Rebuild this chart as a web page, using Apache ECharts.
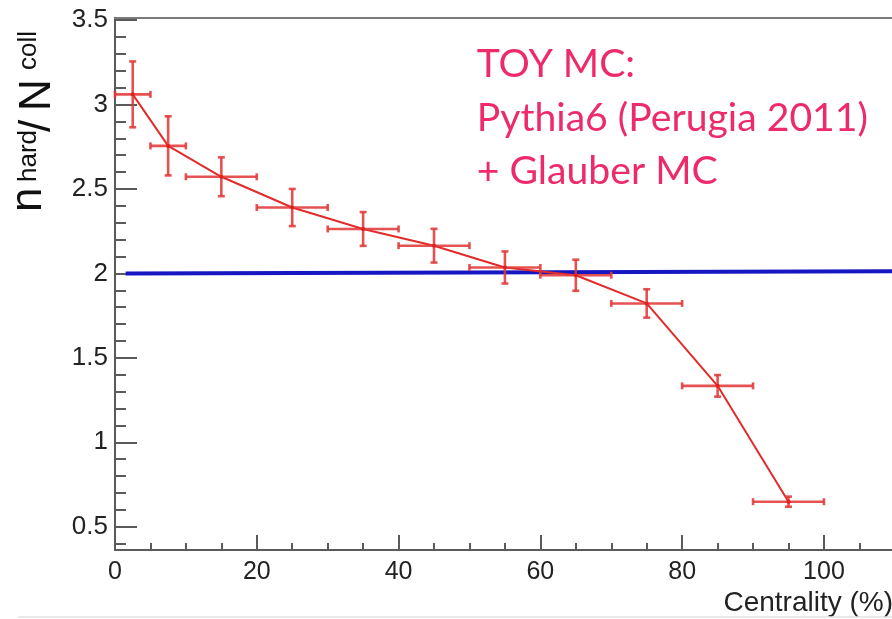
<!DOCTYPE html>
<html>
<head>
<meta charset="utf-8">
<script src="https://cdn.jsdelivr.net/npm/echarts@6/dist/echarts.min.js"></script>
<style>
  html, body { margin: 0; padding: 0; background: #ffffff; }
  #chart { width: 892px; height: 619px; }
</style>
</head>
<body>
<div id="chart"></div>
<script>
// Centrality bins (%), their half widths and the n_hard/N_coll ratio with uncertainties
const centrality = [2.5, 7.5, 15, 25, 35, 45, 55, 65, 75, 85, 95];
const binHalfWidth = [2.5, 2.5, 5, 5, 5, 5, 5, 5, 5, 5, 5];
const ratio = [3.06, 2.755, 2.572, 2.39, 2.263, 2.164, 2.035, 1.989, 1.822, 1.334, 0.648];
const ratioErr = [0.195, 0.175, 0.115, 0.11, 0.10, 0.10, 0.095, 0.092, 0.084, 0.064, 0.03];

// Reference level (blue line)
const refLineX = [1.5, 109.6];
const refLineY = [2.0, 2.013];

// Axis ticks and labels
const xMajorTicks = [0, 20, 40, 60, 80, 100];
const xMinorTicks = [0, 5, 10, 15, 20, 25, 30, 35, 40, 45, 50, 55, 60, 65, 70, 75, 80, 85, 90, 95, 100, 105];
const yMajorTicks = [0.5, 1, 1.5, 2, 2.5, 3, 3.5];
const yMinorTicks = [0.4, 0.5, 0.6, 0.7, 0.8, 0.9, 1.0, 1.1, 1.2, 1.3, 1.4, 1.5, 1.6, 1.7, 1.8, 1.9, 2.0,
                     2.1, 2.2, 2.3, 2.4, 2.5, 2.6, 2.7, 2.8, 2.9, 3.0, 3.1, 3.2, 3.3, 3.4, 3.5];

const annotationLines = ['TOY MC:', 'Pythia6 (Perugia 2011)', '+ Glauber MC'];
const xTitle = 'Centrality (%)';

const X_MIN = 0, X_MAX = 109.6;
const Y_MIN = 0.362, Y_MAX = 3.514;

const AXIS_COLOR = '#5a5a5a';
const LABEL_FONT = 'Liberation Sans, Arial, Helvetica, sans-serif';
const RED = '#e32b2b';

const gridBox = { left: 115, right: 0, top: 17.7, bottom: 69, outerBoundsMode: 'none' };

const points = centrality.map((x, i) => [x, ratio[i]]);
const errData = centrality.map((x, i) => [x, ratio[i], binHalfWidth[i], ratioErr[i]]);
const refLine = refLineX.map((x, i) => [x, refLineY[i]]);

function baseX(gridIndex) {
  return {
    type: 'value', gridIndex, min: X_MIN, max: X_MAX,
    splitLine: { show: false }, axisLabel: { show: false }, axisTick: { show: false },
    axisLine: { show: false }
  };
}
function baseY(gridIndex) {
  return {
    type: 'value', gridIndex, min: Y_MIN, max: Y_MAX,
    splitLine: { show: false }, axisLabel: { show: false }, axisTick: { show: false },
    axisLine: { show: false }
  };
}

const option = {
  backgroundColor: '#ffffff',
  animation: false,
  grid: [Object.assign({}, gridBox), Object.assign({}, gridBox)],
  xAxis: [
    // short ticks every 5 %, plus the axis line
    Object.assign(baseX(0), {
      axisLine: { show: true, onZero: false, lineStyle: { color: AXIS_COLOR, width: 2 } },
      axisTick: { show: true, inside: true, length: 7, customValues: xMinorTicks,
                  lineStyle: { color: AXIS_COLOR, width: 2 } }
    }),
    // long ticks and labels every 20 %
    Object.assign(baseX(1), {
      axisTick: { show: true, inside: true, length: 15, customValues: xMajorTicks,
                  lineStyle: { color: AXIS_COLOR, width: 2 } },
      axisLabel: { show: true, customValues: xMajorTicks, margin: 10, fontSize: 25,
                   color: '#222', fontFamily: LABEL_FONT }
    }),
    // top frame line
    Object.assign(baseX(1), {
      position: 'top',
      axisLine: { show: true, onZero: false, lineStyle: { color: '#7a7a7a', width: 2 } }
    })
  ],
  yAxis: [
    Object.assign(baseY(0), {
      axisLine: { show: true, onZero: false, lineStyle: { color: AXIS_COLOR, width: 2 } },
      axisTick: { show: true, inside: true, length: 11, customValues: yMinorTicks,
                  lineStyle: { color: AXIS_COLOR, width: 2 } }
    }),
    Object.assign(baseY(1), {
      axisTick: { show: true, inside: true, length: 22, customValues: yMajorTicks,
                  lineStyle: { color: AXIS_COLOR, width: 2 } },
      axisLabel: { show: true, customValues: yMajorTicks, margin: 7, fontSize: 26,
                   color: '#222', fontFamily: LABEL_FONT }
    })
  ],
  series: [
    {
      type: 'line', xAxisIndex: 0, yAxisIndex: 0, data: refLine,
      symbol: 'none', z: 2, silent: true,
      lineStyle: { color: '#1616c2', width: 4 }
    },
    {
      type: 'line', xAxisIndex: 0, yAxisIndex: 0, data: points,
      symbol: 'none', z: 3, silent: true,
      lineStyle: { color: RED, width: 2 }
    },
    {
      type: 'custom', xAxisIndex: 0, yAxisIndex: 0, data: errData, z: 4, silent: true,
      encode: { x: 0, y: 1 },
      renderItem: function (params, api) {
        const x = api.value(0), y = api.value(1), dx = api.value(2), dy = api.value(3);
        const c = api.coord([x, y]);
        const l = api.coord([x - dx, y]);
        const r = api.coord([x + dx, y]);
        const t = api.coord([x, y + dy]);
        const b = api.coord([x, y - dy]);
        const cap = 3.5;
        const style = { stroke: '#e23a3a', lineWidth: 2.6, opacity: 0.88 };
        const seg = (x1, y1, x2, y2) => ({ type: 'line', shape: { x1, y1, x2, y2 }, style });
        return {
          type: 'group',
          children: [
            seg(l[0], l[1], r[0], r[1]),
            seg(t[0], t[1], b[0], b[1]),
            seg(l[0], l[1] - cap, l[0], l[1] + cap),
            seg(r[0], r[1] - cap, r[0], r[1] + cap),
            seg(t[0] - cap, t[1], t[0] + cap, t[1]),
            seg(b[0] - cap, b[1], b[0] + cap, b[1]),
            { type: 'circle', shape: { cx: c[0], cy: c[1], r: 2 }, style: { fill: '#e01f1f' } }
          ]
        };
      }
    }
  ],
  graphic: [
    // y-axis title: n_hard / N_coll, read bottom to top
    {
      type: 'group', x: 0, y: 212, rotation: Math.PI / 2, silent: true,
      children: [
        { type: 'text', x: 0, y: 29, style: { text: 'n', fontSize: 44, fontFamily: LABEL_FONT,
          fill: '#111', align: 'left', verticalAlign: 'middle' } },
        { type: 'text', x: 30, y: 29, style: { text: 'hard', fontSize: 26, fontFamily: LABEL_FONT,
          fill: '#111', align: 'left', verticalAlign: 'middle' } },
        { type: 'text', x: 80, y: 38, style: { text: '/', fontSize: 44, fontFamily: LABEL_FONT,
          fill: '#111', align: 'left', verticalAlign: 'middle' } },
        { type: 'text', x: 101, y: 38, style: { text: 'N', fontSize: 44, fontFamily: LABEL_FONT,
          fill: '#111', align: 'left', verticalAlign: 'middle' } },
        { type: 'text', x: 142, y: 29, style: { text: 'coll', fontSize: 26, fontFamily: LABEL_FONT,
          fill: '#111', align: 'left', verticalAlign: 'middle' } }
      ]
    },
    // x-axis title
    {
      type: 'text', x: 893, y: 603, silent: true,
      style: { text: xTitle, fontSize: 28, fontFamily: LABEL_FONT, fill: '#222',
               align: 'right', verticalAlign: 'middle' }
    },
    // annotation block
    {
      type: 'group', x: 476.7, y: 0, silent: true,
      children: annotationLines.map((s, i) => ({
        type: 'text', x: 0, y: 65 + i * 53.3, scaleX: 1.03,
        style: { text: s, fontSize: 38, fontFamily: 'Lato, "Open Sans", sans-serif', fill: '#ee2b6a',
                 align: 'left', verticalAlign: 'middle' }
      }))
    },
    // faint rule along the bottom
    {
      type: 'line', silent: true,
      shape: { x1: 18, y1: 617, x2: 892, y2: 617 },
      style: { stroke: '#e2e2e2', lineWidth: 1.5 }
    }
  ]
};

const chart = echarts.init(document.getElementById('chart'), null, { renderer: 'canvas' });
chart.setOption(option);
</script>
</body>
</html>
